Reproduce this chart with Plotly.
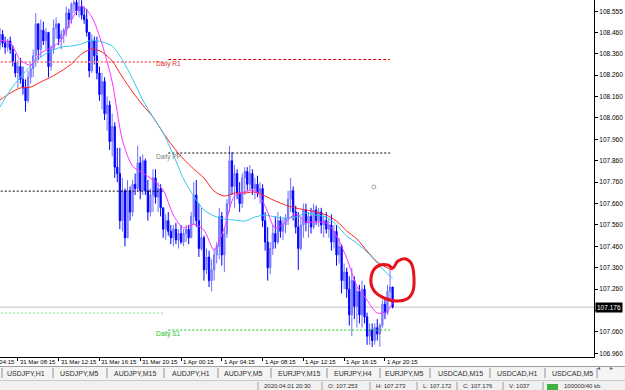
import plotly.graph_objects as go
import pandas as pd

W, H = 625, 390
PX_R, PX_B = 594, 357

# ---------------- data (USDJPY M15) ----------------
times = pd.date_range('2020-03-31 06:30', periods=155, freq='15min')

opens = [108.40,108.45,108.41,108.39,108.42,108.38,108.32,108.27,108.30,108.24,
         108.20,108.14,108.25,108.29,108.35,108.50,108.38,108.47,108.42,108.46,
         108.30,108.38,108.48,108.50,108.43,108.45,108.47,108.55,108.52,108.59,
         108.60,108.56,108.58,108.54,108.52,108.46,108.28,108.42,108.35,108.27,
         108.17,108.23,108.08,108.12,107.95,108.02,107.83,107.80,107.58,107.72,
         107.50,107.72,107.62,107.75,107.73,107.85,107.72,107.86,107.72,107.62,
         107.70,107.78,107.69,107.73,107.64,107.54,107.58,107.53,107.50,107.54,
         107.49,107.52,107.48,107.52,107.54,107.50,107.60,107.70,107.58,107.45,
         107.50,107.35,107.41,107.30,107.35,107.42,107.46,107.60,107.42,107.52,
         107.66,107.86,107.74,107.80,107.71,107.66,107.78,107.81,107.75,107.80,
         107.73,107.75,107.71,107.73,107.58,107.48,107.36,107.45,107.52,107.48,
         107.58,107.53,107.56,107.59,107.68,107.72,107.62,107.55,107.45,107.56,
         107.63,107.57,107.60,107.55,107.63,107.58,107.62,107.56,107.58,107.54,
         107.56,107.48,107.53,107.42,107.46,107.30,107.34,107.26,107.14,107.30,
         107.18,107.25,107.14,107.26,107.13,107.04,107.07,107.02,107.08,107.05,
         107.09,107.19,107.15,107.25,107.27]
highs = [108.48,108.47,108.44,108.43,108.44,108.40,108.36,108.33,108.34,108.30,
         108.24,108.28,108.32,108.38,108.55,108.50,108.52,108.51,108.48,108.46,
         108.40,108.52,108.53,108.50,108.47,108.48,108.58,108.57,108.60,108.62,
         108.62,108.62,108.61,108.58,108.57,108.46,108.45,108.44,108.44,108.30,
         108.27,108.25,108.16,108.14,108.08,108.04,107.92,107.92,107.78,107.73,
         107.77,107.74,107.77,107.80,107.93,107.88,107.89,107.87,107.77,107.73,
         107.82,107.82,107.76,107.75,107.64,107.61,107.62,107.56,107.56,107.57,
         107.54,107.56,107.54,107.56,107.56,107.62,107.76,107.77,107.66,107.64,
         107.51,107.45,107.44,107.40,107.45,107.48,107.64,107.62,107.55,107.68,
         107.93,107.90,107.84,107.82,107.76,107.80,107.83,107.83,107.84,107.82,
         107.78,107.79,107.76,107.75,107.62,107.55,107.48,107.56,107.60,107.62,
         107.60,107.59,107.61,107.72,107.78,107.74,107.65,107.62,107.60,107.66,
         107.66,107.62,107.64,107.66,107.65,107.64,107.64,107.60,107.62,107.59,
         107.61,107.56,107.56,107.50,107.47,107.38,107.36,107.32,107.36,107.32,
         107.27,107.28,107.30,107.28,107.15,107.10,107.10,107.10,107.12,107.10,
         107.21,107.21,107.28,107.36,107.27]
lows = [108.38,108.39,108.36,108.37,108.36,108.30,108.25,108.20,108.22,108.17,
        108.09,108.13,108.22,108.25,108.30,108.33,108.34,108.40,108.38,108.25,
        108.28,108.36,108.43,108.40,108.38,108.41,108.44,108.48,108.50,108.55,
        108.54,108.53,108.52,108.50,108.44,108.25,108.27,108.31,108.24,108.14,
        108.10,108.05,108.00,107.91,107.88,107.78,107.76,107.54,107.53,107.46,
        107.50,107.58,107.60,107.70,107.72,107.68,107.70,107.70,107.58,107.60,
        107.62,107.66,107.62,107.60,107.50,107.49,107.51,107.47,107.46,107.47,
        107.45,107.47,107.46,107.48,107.47,107.50,107.56,107.55,107.41,107.44,
        107.30,107.33,107.27,107.25,107.30,107.38,107.40,107.37,107.34,107.50,
        107.62,107.70,107.64,107.68,107.62,107.64,107.70,107.72,107.72,107.70,
        107.68,107.69,107.66,107.55,107.44,107.30,107.33,107.42,107.45,107.47,
        107.50,107.49,107.52,107.56,107.62,107.58,107.52,107.35,107.44,107.50,
        107.53,107.50,107.52,107.54,107.56,107.55,107.52,107.50,107.52,107.50,
        107.44,107.45,107.37,107.38,107.24,107.26,107.22,107.09,107.04,107.12,
        107.08,107.10,107.08,107.10,107.00,107.00,106.99,107.00,107.02,106.99,
        107.08,107.12,107.14,107.20,107.17]
closes = [108.45,108.41,108.39,108.42,108.38,108.32,108.27,108.30,108.24,108.20,
          108.14,108.25,108.29,108.35,108.50,108.38,108.47,108.42,108.46,108.30,
          108.38,108.48,108.50,108.43,108.45,108.47,108.55,108.52,108.59,108.60,
          108.56,108.58,108.54,108.52,108.46,108.28,108.42,108.35,108.27,108.17,
          108.23,108.08,108.12,107.95,108.02,107.83,107.80,107.58,107.72,107.50,
          107.72,107.62,107.75,107.73,107.85,107.72,107.86,107.72,107.62,107.70,
          107.78,107.69,107.73,107.64,107.54,107.58,107.53,107.50,107.54,107.49,
          107.52,107.48,107.52,107.54,107.50,107.60,107.70,107.58,107.45,107.50,
          107.35,107.41,107.30,107.35,107.42,107.46,107.60,107.42,107.52,107.66,
          107.86,107.74,107.80,107.71,107.66,107.78,107.81,107.75,107.80,107.73,
          107.75,107.71,107.73,107.58,107.48,107.36,107.45,107.52,107.48,107.58,
          107.53,107.56,107.59,107.68,107.72,107.62,107.55,107.45,107.56,107.63,
          107.57,107.60,107.55,107.63,107.58,107.62,107.56,107.58,107.54,107.56,
          107.48,107.53,107.42,107.46,107.30,107.34,107.26,107.14,107.30,107.18,
          107.25,107.14,107.26,107.13,107.04,107.07,107.02,107.08,107.05,107.09,
          107.19,107.15,107.25,107.27,107.176]

# moving averages read at every 4th bar (plus the last one)
ma_idx = list(range(0, 153, 4)) + [154]
ma_fast = [108.424,108.410,108.331,108.307,108.363,108.387,108.424,108.518,108.583,108.532,
           108.405,108.228,107.957,107.835,107.803,107.770,107.723,107.606,107.546,107.564,
           107.536,107.443,107.546,107.695,107.714,107.723,107.648,107.546,107.574,107.611,
           107.574,107.574,107.569,107.508,107.405,107.274,107.209,107.148,107.158,107.195]
ma_mid = [108.111,108.190,108.251,108.303,108.345,108.373,108.391,108.396,108.405,108.424,
          108.415,108.396,108.331,108.242,108.144,108.064,107.990,107.887,107.775,107.695,
          107.630,107.602,107.588,107.583,107.578,107.597,107.606,107.597,107.592,107.597,
          107.616,107.606,107.597,107.560,107.508,107.475,107.433,107.382,107.331,107.312]
ma_slow = [108.144,108.176,108.200,108.204,108.228,108.251,108.279,108.312,108.359,108.382,
           108.368,108.326,108.251,108.181,108.120,108.064,107.990,107.924,107.868,107.821,
           107.779,107.718,107.695,107.709,107.709,107.714,107.695,107.672,107.653,107.639,
           107.630,107.620,107.606,107.578,107.532,107.494,107.438,107.387,107.359,107.349]

# daily pivots
prev_span = ['2020-03-31 05:00', '2020-03-31 22:30']
cur_span = ['2020-03-31 23:00', '2020-04-01 20:45']
prev_levels = {'R1': 108.321, 'PP': 107.718, 'S1': 107.148}
cur_levels = {'R1': 108.333, 'PP': 107.896, 'S1': 107.069}
pivot_labels = {'R1': 'Daily R1', 'PP': 'Daily PP', 'S1': 'Daily S1'}

bid = 107.176
marker_pt = ('2020-04-01 19:10', 107.737)

ytick_vals = [108.555,108.460,108.360,108.260,108.160,108.060,107.960,107.860,107.760,
              107.660,107.560,107.460,107.360,107.260,107.160,107.060,106.960]
xtick_times = ['2020-03-31 08:15','2020-03-31 12:15','2020-03-31 16:15','2020-03-31 20:15',
               '2020-04-01 00:15','2020-04-01 04:15','2020-04-01 08:15','2020-04-01 12:15',
               '2020-04-01 16:15','2020-04-01 20:15']
xlabel_times = ['2020-03-31 04:15'] + xtick_times
xlabels = ['31 Mar 04:15','31 Mar 08:15','31 Mar 12:15','31 Mar 16:15','31 Mar 20:15',
           '1 Apr 00:15','1 Apr 04:15','1 Apr 08:15','1 Apr 12:15','1 Apr 16:15','1 Apr 20:15']

tabs = ['USDJPY,H1','USDJPY,M5','AUDJPY,M15','AUDJPY,H1','AUDJPY,M5','EURJPY,M15',
        'EURJPY,H4','EURJPY,M5','USDCAD,M15','USDCAD,H1','USDCAD,M5']
status_items = ['2020.04.01 20:30','O: 107.253','H: 107.273','L: 107.172','C: 107.176',
                'V: 1037','100000/40 kb']

# ---------------- helpers ----------------
X0 = pd.Timestamp('2020-03-31 06:29:46')
X1 = pd.Timestamp('2020-04-02 16:45:16')


def fx(p):
    return p / W


def fy(p):
    return 1 - p / H


def t2paper(t):
    return (pd.Timestamp(t) - X0) / (X1 - X0) * PX_R / W


FONT = 'Liberation Sans'
fig = go.Figure()

# pivot lines
prev_style = {'R1': dict(color='#ff8a8a', width=2, dash='2px,2px'),
              'PP': dict(color='#000000', width=1, dash='2px,2px'),
              'S1': dict(color='#6ee06e', width=1, dash='2px,2px')}
cur_style = {'R1': dict(color='#e00000', width=1, dash='3px,2px'),
             'PP': dict(color='#000000', width=1, dash='2px,2px'),
             'S1': dict(color='#10c810', width=1, dash='2px,2px')}
for k, v in prev_levels.items():
    fig.add_trace(go.Scatter(x=prev_span, y=[v, v], mode='lines', line=prev_style[k],
                             showlegend=False, hoverinfo='skip'))
for k, v in cur_levels.items():
    fig.add_trace(go.Scatter(x=cur_span, y=[v, v], mode='lines', line=cur_style[k],
                             showlegend=False, hoverinfo='skip'))

fig.add_trace(go.Candlestick(
    x=times, open=opens, high=highs, low=lows, close=closes,
    increasing=dict(line=dict(color='#7070ff', width=1), fillcolor='#a4a4ff'),
    decreasing=dict(line=dict(color='#0000ff', width=1), fillcolor='#0000ff'),
    whiskerwidth=0, showlegend=False, hoverinfo='skip'))

ma_t = [times[i] for i in ma_idx]
for vals, col in [(ma_slow, '#ff2020'), (ma_mid, '#30c8f0'), (ma_fast, '#ff30ff')]:
    fig.add_trace(go.Scatter(x=ma_t, y=vals, mode='lines',
                             line=dict(color=col, width=1, shape='spline', smoothing=0.8),
                             showlegend=False, hoverinfo='skip'))

fig.add_trace(go.Scatter(x=[marker_pt[0]], y=[marker_pt[1]], mode='markers',
                         marker=dict(symbol='circle-open', size=4, color='#a0a0a0', line=dict(width=1)),
                         showlegend=False, hoverinfo='skip'))

shapes = []
annotations = []

# bid line
shapes.append(dict(type='line', xref='paper', yref='y', x0=0, x1=PX_R / W, y0=bid, y1=bid,
                   line=dict(color='#c0c0c0', width=1), layer='below'))

# pivot labels
label_col = {'R1': '#e03030', 'PP': '#808080', 'S1': '#20c020'}
for k, v in cur_levels.items():
    annotations.append(dict(x=cur_span[0], y=v, xref='x', yref='y', text=pivot_labels[k],
                            showarrow=False, xanchor='center', yanchor='middle', yshift=-4,
                            font=dict(family=FONT, size=6.5, color=label_col[k])))

# time labels (paper coordinates so the clipped first one still shows)
for t, lab in zip(xlabel_times, xlabels):
    annotations.append(dict(x=t2paper(t), y=fy(362), xref='paper', yref='paper', text=lab,
                            showarrow=False, xanchor='left', yanchor='middle',
                            font=dict(family=FONT, size=6, color='black')))

# price box
annotations.append(dict(x=PX_R / W, y=bid, xref='paper', yref='y', text='107.176', showarrow=False,
                        xanchor='left', yanchor='middle', xshift=1, bgcolor='black', borderpad=1,
                        font=dict(family=FONT, size=6.5, color='white')))

# red hand-drawn loop (catmull-rom -> bezier in paper coords)
loop = [(371, 283), (373, 271), (380, 265), (388, 265), (393, 268), (398, 261), (406, 259),
        (412, 265), (414, 278), (413, 291), (407, 299), (396, 301), (384, 298), (375, 292)]
n = len(loop)
path = 'M %.4f %.4f' % (fx(loop[0][0]), fy(loop[0][1]))
for i in range(n):
    p0 = loop[(i - 1) % n]; p1 = loop[i]; p2 = loop[(i + 1) % n]; p3 = loop[(i + 2) % n]
    c1 = (p1[0] + (p2[0] - p0[0]) / 6, p1[1] + (p2[1] - p0[1]) / 6)
    c2 = (p2[0] - (p3[0] - p1[0]) / 6, p2[1] - (p3[1] - p1[1]) / 6)
    path += ' C %.4f %.4f %.4f %.4f %.4f %.4f' % (fx(c1[0]), fy(c1[1]), fx(c2[0]), fy(c2[1]),
                                                  fx(p2[0]), fy(p2[1]))
shapes.append(dict(type='path', xref='paper', yref='paper', path=path,
                   line=dict(color='#e8101a', width=3)))

# tab strip
shapes.append(dict(type='rect', xref='paper', yref='paper', x0=0, x1=1, y0=fy(380), y1=fy(366.5),
                   fillcolor='#f4f4f4', line=dict(width=0)))
shapes.append(dict(type='line', xref='paper', yref='paper', x0=0, x1=1, y0=fy(366.5), y1=fy(366.5),
                   line=dict(color='#a0a0a0', width=1)))
tab_centers = [26, 79, 135, 191, 243, 299, 353, 404, 460, 517, 572]
tab_seps = [2, 53, 107, 164, 218, 271, 327, 380, 430, 490, 545, 597]
for c, t in zip(tab_centers, tabs):
    annotations.append(dict(x=fx(c), y=fy(373.5), xref='paper', yref='paper', text=t, showarrow=False,
                            xanchor='center', yanchor='middle',
                            font=dict(family=FONT, size=7, color='#303030')))
for s in tab_seps:
    shapes.append(dict(type='line', xref='paper', yref='paper', x0=fx(s), x1=fx(s),
                       y0=fy(378), y1=fy(368), line=dict(color='#909090', width=1)))
for c, t in [(602, '◂'), (615, '▸')]:
    annotations.append(dict(x=fx(c), y=fy(373), xref='paper', yref='paper', text=t, showarrow=False,
                            font=dict(family='DejaVu Sans', size=6, color='#606060')))

# status bar
shapes.append(dict(type='rect', xref='paper', yref='paper', x0=0, x1=1, y0=0, y1=fy(380.5),
                   fillcolor='#f0f0f0', line=dict(width=0)))
shapes.append(dict(type='line', xref='paper', yref='paper', x0=0, x1=1, y0=fy(380.5), y1=fy(380.5),
                   line=dict(color='#c8c8c8', width=1)))
stat_seps = [258, 322, 370, 417, 457, 503, 543]
for s in stat_seps:
    shapes.append(dict(type='line', xref='paper', yref='paper', x0=fx(s), x1=fx(s),
                       y0=0, y1=fy(382), line=dict(color='#a0a0a0', width=1)))
stat_x = [262, 326, 374, 421, 461, 507, 562]
for c, t in zip(stat_x, status_items):
    annotations.append(dict(x=fx(c), y=fy(385.5), xref='paper', yref='paper', text=t, showarrow=False,
                            xanchor='left', yanchor='middle',
                            font=dict(family=FONT, size=6, color='#303030')))
shapes.append(dict(type='rect', xref='paper', yref='paper', x0=fx(547), x1=fx(558), y0=0, y1=fy(384),
                   fillcolor='#40b040', line=dict(width=0)))

ytick_text = ['' if abs(v - 107.160) < 1e-6 else '%.3f' % v for v in ytick_vals]

fig.update_layout(
    width=W, height=H, margin=dict(l=0, r=0, t=0, b=0, pad=0),
    paper_bgcolor='white', plot_bgcolor='white', showlegend=False,
    xaxis=dict(domain=[0, PX_R / W], type='date',
               range=[str(X0), str(X1)],
               rangeslider=dict(visible=False), showgrid=False, zeroline=False,
               showline=True, linecolor='black', linewidth=1,
               ticks='outside', ticklen=3, tickcolor='black', tickvals=xtick_times,
               showticklabels=False, fixedrange=True),
    yaxis=dict(domain=[1 - PX_B / H, 1], side='right', range=[106.943, 108.611],
               showgrid=False, zeroline=False, showline=True, linecolor='black', linewidth=1,
               ticks='outside', ticklen=3, tickcolor='black', tickvals=ytick_vals,
               ticktext=ytick_text,
               tickfont=dict(family=FONT, size=6.5, color='black'), fixedrange=True),
    shapes=shapes, annotations=annotations,
)

fig.write_html('out.html')
